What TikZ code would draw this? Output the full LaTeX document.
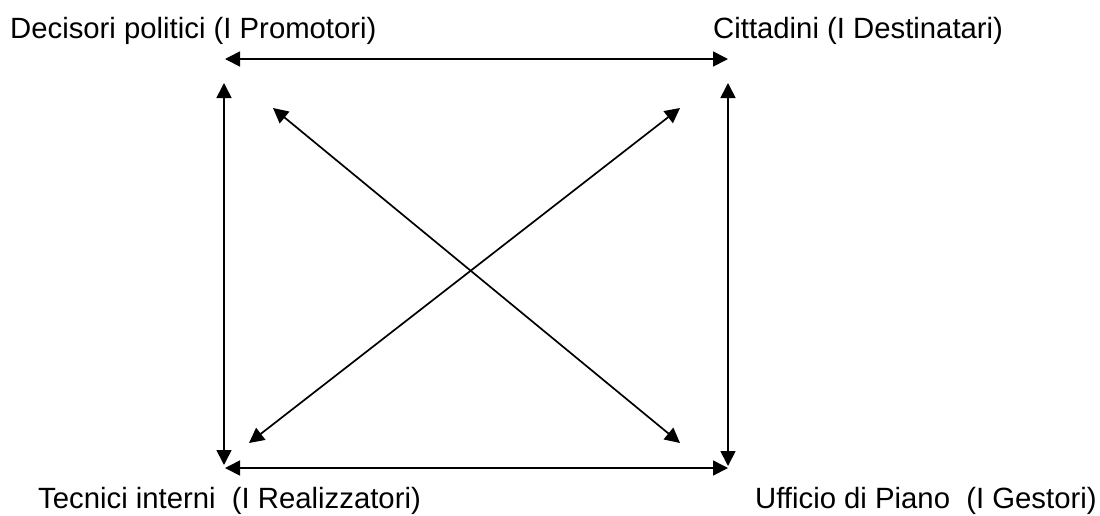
\documentclass[tikz,border=0pt]{standalone}
\usepackage{fontspec}
\setmainfont{Liberation Sans}
\usetikzlibrary{arrows.meta}
\begin{document}
\begin{tikzpicture}[x=1pt,y=-1pt,
  lab/.style={font=\fontsize{29.3}{34}\selectfont, inner sep=0pt, anchor=base west},
  link/.style={line width=1.7pt, {Triangle[length=15pt,width=15pt]}-{Triangle[length=15pt,width=15pt]}}]
\useasboundingbox (0,0) rectangle (1100,515);
\node[lab] (dp) at (10,38) {Decisori politici (I Promotori)};
\node[lab] (ci) at (713,38) {Cittadini (I Destinatari)};
\node[lab] (te) at (38,508.5) {Tecnici interni\ \ (I Realizzatori)};
\node[lab] (uf) at (755,508.5) {Ufficio di Piano\ \ (I Gestori)};
\coordinate (tl) at (225,59);
\coordinate (tr) at (728,59);
\coordinate (lt) at (224,83);
\coordinate (lb) at (224,465);
\coordinate (rt) at (728,83);
\coordinate (rb) at (728,466);
\coordinate (bl) at (225,468);
\coordinate (br) at (728,468);
\coordinate (d1a) at (273,108);
\coordinate (d1b) at (680,443);
\coordinate (d2a) at (680,108);
\coordinate (d2b) at (249,443);
\draw[link] (tl) -- (tr);
\draw[link] (lt) -- (lb);
\draw[link] (rt) -- (rb);
\draw[link] (bl) -- (br);
\draw[link] (d1a) -- (d1b);
\draw[link] (d2a) -- (d2b);
\end{tikzpicture}
\end{document}
